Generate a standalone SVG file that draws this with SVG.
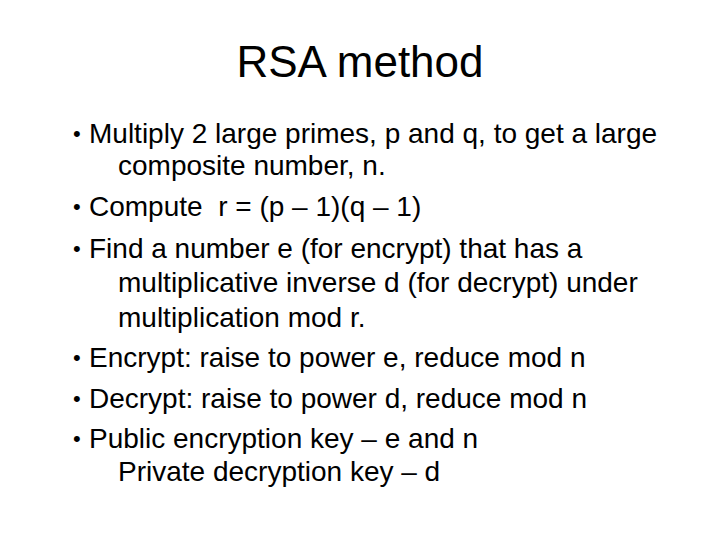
<svg xmlns="http://www.w3.org/2000/svg" width="720" height="540" viewBox="0 0 720 540">
<style>
text{font-family:"Liberation Sans",Arial,sans-serif;fill:#000}
.t{font-size:44px}
.b{font-size:28px}
.d{font-size:22px}
</style>
<rect width="720" height="540" fill="#fff"/>
<text class="t" x="360" y="77" text-anchor="middle">RSA method</text>
<g>
<text class="d" x="73" y="141">•</text><text class="b" x="89" y="143">Multiply 2 large primes, p and q, to get a large</text>
<text class="b" x="118" y="175">composite number, n.</text>
<text class="d" x="73" y="214">•</text><text class="b" x="89" y="216" xml:space="preserve">Compute  r = (p – 1)(q – 1)</text>
<text class="d" x="73" y="256">•</text><text class="b" x="89" y="258">Find a number e (for encrypt) that has a</text>
<text class="b" x="118" y="292">multiplicative inverse d (for decrypt) under</text>
<text class="b" x="118" y="327">multiplication mod r.</text>
<text class="d" x="73" y="365">•</text><text class="b" x="89" y="367">Encrypt: raise to power e, reduce mod n</text>
<text class="d" x="73" y="406">•</text><text class="b" x="89" y="408">Decrypt: raise to power d, reduce mod n</text>
<text class="d" x="73" y="446">•</text><text class="b" x="89" y="448">Public encryption key – e and n</text>
<text class="b" x="118" y="481">Private decryption key – d</text>
</g>
</svg>
